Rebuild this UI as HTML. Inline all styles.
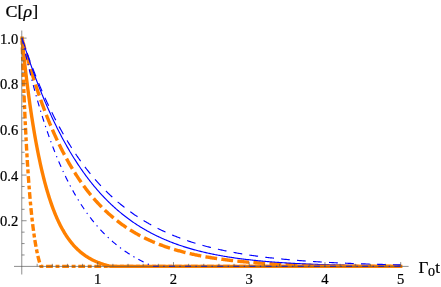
<!DOCTYPE html>
<html><head><meta charset="utf-8"><style>
html,body{margin:0;padding:0;background:#fff;}
svg{display:block;font-family:"Liberation Serif",serif;fill:#000;}
svg{will-change:transform;}
text{filter:grayscale(1);stroke:#000;stroke-width:0.22px;}
</style></head><body>
<svg width="441" height="287" viewBox="0 0 441 287">
<rect width="441" height="287" fill="#fff"/>
<path d="M22.00,38.10 L22.00,38.10 L22.00,38.12 L22.01,38.14 L22.02,38.16 L22.03,38.20 L22.04,38.25 L22.05,38.30 L22.07,38.36 L22.09,38.43 L22.11,38.50 L22.13,38.59 L22.15,38.68 L22.18,38.78 L22.21,38.89 L22.24,39.01 L22.27,39.13 L22.30,39.27 L22.34,39.41 L22.38,39.55 L22.42,39.71 L22.46,39.88 L22.51,40.05 L22.56,40.23 L22.61,40.42 L22.66,40.61 L22.71,40.82 L22.77,41.03 L22.82,41.25 L22.88,41.48 L22.95,41.71 L23.01,41.95 L23.08,42.20 L23.15,42.46 L23.22,42.73 L23.29,43.00 L23.36,43.28 L23.44,43.57 L23.52,43.86 L23.60,44.17 L23.68,44.48 L23.77,44.80 L23.86,45.12 L23.95,45.46 L24.04,45.80 L24.13,46.14 L24.23,46.50 L24.32,46.86 L24.42,47.23 L24.53,47.60 L24.63,47.99 L24.74,48.38 L24.84,48.78 L24.95,49.18 L25.07,49.59 L25.18,50.01 L25.30,50.43 L25.42,50.87 L25.54,51.31 L25.66,51.75 L25.79,52.20 L25.91,52.66 L26.04,53.13 L26.18,53.60 L26.31,54.08 L26.44,54.56 L26.58,55.05 L26.72,55.55 L26.86,56.05 L27.01,56.56 L27.15,57.08 L27.30,57.60 L27.45,58.13 L27.61,58.66 L27.76,59.20 L27.92,59.75 L28.08,60.30 L28.24,60.86 L28.40,61.42 L28.57,61.99 L28.73,62.57 L28.90,63.15 L29.07,63.74 L29.25,64.33 L29.42,64.92 L29.60,65.53 L29.78,66.13 L29.96,66.75 L30.15,67.37 L30.33,67.99 L30.52,68.62 L30.71,69.25 L30.90,69.89 L31.10,70.53 L31.29,71.18 L31.49,71.83 L31.69,72.49 L31.90,73.15 L32.10,73.82 L32.31,74.49 L32.52,75.17 L32.73,75.85 L32.94,76.53 L33.16,77.22 L33.38,77.91 L33.60,78.61 L33.82,79.31 L34.04,80.01 L34.27,80.72 L34.50,81.44 L34.73,82.15 L34.96,82.87 L35.20,83.60 L35.43,84.33 L35.67,85.06 L35.91,85.79 L36.15,86.53 L36.40,87.27 L36.65,88.02 L36.90,88.76 L37.15,89.51 L37.40,90.27 L37.66,91.03 L37.91,91.79 L38.17,92.55 L38.44,93.32 L38.70,94.08 L38.97,94.85 L39.24,95.63 L39.51,96.41 L39.78,97.18 L40.05,97.97 L40.33,98.75 L40.61,99.54 L40.89,100.32 L41.17,101.11 L41.46,101.91 L41.74,102.70 L42.03,103.50 L42.32,104.30 L42.62,105.10 L42.91,105.90 L43.21,106.70 L43.51,107.51 L43.81,108.32 L44.12,109.12 L44.42,109.93 L44.73,110.74 L45.04,111.56 L45.35,112.37 L45.67,113.19 L45.99,114.00 L46.30,114.82 L46.62,115.64 L46.95,116.46 L47.27,117.28 L47.60,118.10 L47.93,118.92 L48.26,119.74 L48.59,120.56 L48.93,121.39 L49.27,122.21 L49.61,123.04 L49.95,123.86 L50.29,124.69 L50.64,125.51 L50.99,126.34 L51.34,127.16 L51.69,127.99 L52.04,128.81 L52.40,129.64 L52.76,130.46 L53.12,131.29 L53.48,132.12 L53.85,132.94 L54.22,133.77 L54.59,134.59 L54.96,135.41 L55.33,136.24 L55.71,137.06 L56.08,137.88 L56.46,138.70 L56.84,139.52 L57.23,140.34 L57.61,141.16 L58.00,141.98 L58.39,142.80 L58.79,143.62 L59.18,144.43 L59.58,145.25 L59.98,146.06 L60.38,146.87 L60.78,147.68 L61.18,148.49 L61.59,149.30 L62.00,150.11 L62.41,150.91 L62.82,151.72 L63.24,152.52 L63.66,153.32 L64.08,154.12 L64.50,154.92 L64.92,155.71 L65.35,156.51 L65.78,157.30 L66.21,158.09 L66.64,158.88 L67.07,159.67 L67.51,160.45 L67.95,161.24 L68.39,162.02 L68.83,162.80 L69.28,163.57 L69.73,164.35 L70.17,165.12 L70.63,165.89 L71.08,166.66 L71.54,167.42 L71.99,168.19 L72.45,168.95 L72.91,169.71 L73.38,170.46 L73.84,171.22 L74.31,171.97 L74.78,172.72 L75.25,173.46 L75.73,174.21 L76.21,174.95 L76.68,175.69 L77.17,176.42 L77.65,177.16 L78.13,177.89 L78.62,178.61 L79.11,179.34 L79.60,180.06 L80.09,180.78 L80.59,181.49 L81.09,182.21 L81.59,182.92 L82.09,183.62 L82.59,184.33 L83.10,185.03 L83.61,185.73 L84.12,186.42 L84.63,187.11 L85.14,187.80 L85.66,188.49 L86.18,189.17 L86.70,189.85 L87.22,190.53 L87.75,191.20 L88.27,191.87 L88.80,192.54 L89.33,193.20 L89.87,193.86 L90.40,194.52 L90.94,195.17 L91.48,195.82 L92.02,196.47 L92.57,197.11 L93.11,197.75 L93.66,198.38 L94.21,199.02 L94.76,199.65 L95.32,200.27 L95.87,200.90 L96.43,201.51 L96.99,202.13 L97.55,202.74 L98.12,203.35 L98.69,203.96 L99.26,204.56 L99.83,205.16 L100.40,205.75 L100.98,206.34 L101.55,206.93 L102.13,207.51 L102.71,208.09 L103.30,208.67 L103.88,209.24 L104.47,209.81 L105.06,210.38 L105.65,210.94 L106.25,211.50 L106.85,212.06 L107.44,212.61 L108.04,213.16 L108.65,213.70 L109.25,214.24 L109.86,214.78 L110.47,215.31 L111.08,215.84 L111.69,216.37 L112.31,216.89 L112.93,217.41 L113.55,217.93 L114.17,218.44 L114.79,218.95 L115.42,219.45 L116.04,219.96 L116.67,220.45 L117.31,220.95 L117.94,221.44 L118.58,221.93 L119.22,222.41 L119.86,222.89 L120.50,223.36 L121.14,223.84 L121.79,224.31 L122.44,224.77 L123.09,225.23 L123.75,225.69 L124.40,226.15 L125.06,226.60 L125.72,227.05 L126.38,227.49 L127.04,227.93 L127.71,228.37 L128.38,228.80 L129.05,229.23 L129.72,229.66 L130.39,230.08 L131.07,230.50 L131.75,230.92 L132.43,231.33 L133.11,231.74 L133.80,232.15 L134.48,232.55 L135.17,232.95 L135.86,233.35 L136.56,233.74 L137.25,234.13 L137.95,234.51 L138.65,234.90 L139.35,235.28 L140.05,235.65 L140.76,236.02 L141.47,236.39 L142.18,236.76 L142.89,237.12 L143.60,237.48 L144.32,237.84 L145.04,238.19 L145.76,238.54 L146.48,238.89 L147.21,239.23 L147.93,239.57 L148.66,239.91 L149.39,240.24 L150.13,240.57 L150.86,240.90 L151.60,241.22 L152.34,241.55 L153.08,241.86 L153.83,242.18 L154.57,242.49 L155.32,242.80 L156.07,243.11 L156.82,243.41 L157.58,243.71 L158.33,244.01 L159.09,244.30 L159.85,244.59 L160.61,244.88 L161.38,245.17 L162.15,245.45 L162.91,245.73 L163.69,246.01 L164.46,246.28 L165.23,246.56 L166.01,246.82 L166.79,247.09 L167.57,247.35 L168.36,247.61 L169.14,247.87 L169.93,248.13 L170.72,248.38 L171.51,248.63 L172.31,248.88 L173.10,249.12 L173.90,249.36 L174.70,249.60 L175.50,249.84 L176.31,250.07 L177.12,250.31 L177.92,250.53 L178.74,250.76 L179.55,250.98 L180.36,251.21 L181.18,251.43 L182.00,251.64 L182.82,251.86 L183.65,252.07 L184.47,252.28 L185.30,252.49 L186.13,252.69 L186.96,252.89 L187.80,253.09 L188.63,253.29 L189.47,253.49 L190.31,253.68 L191.15,253.87 L192.00,254.06 L192.85,254.25 L193.69,254.43 L194.55,254.62 L195.40,254.80 L196.25,254.97 L197.11,255.15 L197.97,255.32 L198.83,255.50 L199.70,255.67 L200.56,255.83 L201.43,256.00 L202.30,256.16 L203.17,256.33 L204.05,256.49 L204.92,256.64 L205.80,256.80 L206.68,256.95 L207.56,257.11 L208.45,257.26 L209.33,257.40 L210.22,257.55 L211.11,257.70 L212.01,257.84 L212.90,257.98 L213.80,258.12 L214.70,258.26 L215.60,258.39 L216.50,258.53 L217.41,258.66 L218.32,258.79 L219.23,258.92 L220.14,259.05 L221.05,259.17 L221.97,259.30 L222.89,259.42 L223.81,259.54 L224.73,259.66 L225.66,259.78 L226.58,259.89 L227.51,260.01 L228.44,260.12 L229.38,260.23 L230.31,260.34 L231.25,260.45 L232.19,260.56 L233.13,260.66 L234.07,260.77 L235.02,260.87 L235.97,260.97 L236.92,261.07 L237.87,261.17 L238.82,261.27 L239.78,261.37 L240.74,261.46 L241.70,261.55 L242.66,261.65 L243.62,261.74 L244.59,261.83 L245.56,261.92 L246.53,262.00 L247.50,262.09 L248.48,262.17 L249.46,262.26 L250.44,262.34 L251.42,262.42 L252.40,262.50 L253.39,262.58 L254.37,262.66 L255.36,262.73 L256.36,262.81 L257.35,262.88 L258.35,262.96 L259.34,263.03 L260.35,263.10 L261.35,263.17 L262.35,263.24 L263.36,263.31 L264.37,263.38 L265.38,263.44 L266.39,263.51 L267.41,263.57 L268.42,263.63 L269.44,263.70 L270.47,263.76 L271.49,263.82 L272.51,263.88 L273.54,263.94 L274.57,263.99 L275.60,264.05 L276.64,264.11 L277.67,264.16 L278.71,264.22 L279.75,264.27 L280.80,264.32 L281.84,264.38 L282.89,264.43 L283.94,264.48 L284.99,264.53 L286.04,264.58 L287.09,264.62 L288.15,264.67 L289.21,264.72 L290.27,264.76 L291.34,264.81 L292.40,264.85 L293.47,264.90 L294.54,264.94 L295.61,264.98 L296.68,265.02 L297.76,265.06 L298.84,265.10 L299.92,265.14 L301.00,265.18 L302.09,265.22 L303.17,265.26 L304.26,265.30 L305.35,265.33 L306.45,265.37 L307.54,265.40 L308.64,265.44 L309.74,265.47 L310.84,265.51 L311.94,265.54 L313.05,265.57 L314.16,265.60 L315.27,265.64 L316.38,265.67 L317.49,265.70 L318.61,265.73 L319.73,265.76 L320.85,265.79 L321.97,265.81 L323.09,265.84 L324.22,265.87 L325.35,265.90 L326.48,265.92 L327.61,265.95 L328.75,265.98 L329.88,266.00 L331.02,266.03 L332.16,266.05 L333.31,266.07 L334.45,266.10 L335.60,266.12 L336.75,266.14 L337.90,266.17 L339.06,266.19 L340.21,266.21 L341.37,266.23 L342.53,266.25 L343.69,266.27 L344.86,266.29 L346.03,266.31 L347.19,266.33 L348.36,266.35 L349.54,266.37 L350.71,266.39 L351.89,266.40 L353.07,266.40 L354.25,266.40 L355.43,266.40 L356.62,266.40 L357.81,266.40 L359.00,266.40 L360.19,266.40 L361.38,266.40 L362.58,266.40 L363.78,266.40 L364.98,266.40 L366.18,266.40 L367.38,266.40 L368.59,266.40 L369.80,266.40 L371.01,266.40 L372.22,266.40 L373.44,266.40 L374.65,266.40 L375.87,266.40 L377.10,266.40 L378.32,266.40 L379.54,266.40 L380.77,266.40 L382.00,266.40 L383.23,266.40 L384.47,266.40 L385.70,266.40 L386.94,266.40 L388.18,266.40 L389.42,266.40 L390.67,266.40 L391.92,266.40 L393.16,266.40 L394.41,266.40 L395.67,266.40 L396.92,266.40 L398.18,266.40 L399.44,266.40 L400.70,266.40" fill="none" stroke="#ff8000" stroke-width="3.4" stroke-dasharray="11.8,4.3"/>
<path d="M22.00,38.10 L22.00,38.10 L22.00,38.11 L22.01,38.13 L22.02,38.15 L22.03,38.18 L22.04,38.22 L22.05,38.26 L22.07,38.32 L22.09,38.37 L22.11,38.44 L22.13,38.51 L22.15,38.58 L22.18,38.67 L22.21,38.76 L22.24,38.86 L22.27,38.96 L22.30,39.07 L22.34,39.19 L22.38,39.31 L22.42,39.44 L22.46,39.58 L22.51,39.72 L22.56,39.87 L22.61,40.03 L22.66,40.19 L22.71,40.36 L22.77,40.54 L22.82,40.72 L22.88,40.91 L22.95,41.11 L23.01,41.31 L23.08,41.52 L23.15,41.73 L23.22,41.95 L23.29,42.18 L23.36,42.42 L23.44,42.66 L23.52,42.91 L23.60,43.16 L23.68,43.42 L23.77,43.69 L23.86,43.96 L23.95,44.24 L24.04,44.52 L24.13,44.81 L24.23,45.11 L24.32,45.41 L24.42,45.72 L24.53,46.04 L24.63,46.36 L24.74,46.69 L24.84,47.02 L24.95,47.36 L25.07,47.71 L25.18,48.06 L25.30,48.42 L25.42,48.78 L25.54,49.15 L25.66,49.53 L25.79,49.91 L25.91,50.29 L26.04,50.69 L26.18,51.08 L26.31,51.49 L26.44,51.90 L26.58,52.31 L26.72,52.73 L26.86,53.16 L27.01,53.59 L27.15,54.03 L27.30,54.47 L27.45,54.92 L27.61,55.37 L27.76,55.83 L27.92,56.30 L28.08,56.77 L28.24,57.24 L28.40,57.72 L28.57,58.20 L28.73,58.69 L28.90,59.19 L29.07,59.69 L29.25,60.19 L29.42,60.70 L29.60,61.22 L29.78,61.74 L29.96,62.26 L30.15,62.79 L30.33,63.33 L30.52,63.87 L30.71,64.41 L30.90,64.96 L31.10,65.51 L31.29,66.07 L31.49,66.63 L31.69,67.20 L31.90,67.77 L32.10,68.34 L32.31,68.92 L32.52,69.51 L32.73,70.09 L32.94,70.69 L33.16,71.28 L33.38,71.88 L33.60,72.49 L33.82,73.10 L34.04,73.71 L34.27,74.32 L34.50,74.94 L34.73,75.57 L34.96,76.20 L35.20,76.83 L35.43,77.46 L35.67,78.10 L35.91,78.74 L36.15,79.39 L36.40,80.04 L36.65,80.69 L36.90,81.35 L37.15,82.01 L37.40,82.67 L37.66,83.34 L37.91,84.01 L38.17,84.68 L38.44,85.36 L38.70,86.03 L38.97,86.72 L39.24,87.40 L39.51,88.09 L39.78,88.78 L40.05,89.47 L40.33,90.17 L40.61,90.87 L40.89,91.57 L41.17,92.27 L41.46,92.98 L41.74,93.69 L42.03,94.40 L42.32,95.11 L42.62,95.83 L42.91,96.55 L43.21,97.27 L43.51,97.99 L43.81,98.72 L44.12,99.45 L44.42,100.18 L44.73,100.91 L45.04,101.64 L45.35,102.38 L45.67,103.11 L45.99,103.85 L46.30,104.59 L46.62,105.34 L46.95,106.08 L47.27,106.83 L47.60,107.57 L47.93,108.32 L48.26,109.07 L48.59,109.82 L48.93,110.58 L49.27,111.33 L49.61,112.09 L49.95,112.84 L50.29,113.60 L50.64,114.36 L50.99,115.12 L51.34,115.88 L51.69,116.65 L52.04,117.41 L52.40,118.17 L52.76,118.94 L53.12,119.70 L53.48,120.47 L53.85,121.24 L54.22,122.00 L54.59,122.77 L54.96,123.54 L55.33,124.31 L55.71,125.08 L56.08,125.85 L56.46,126.62 L56.84,127.39 L57.23,128.16 L57.61,128.93 L58.00,129.70 L58.39,130.48 L58.79,131.25 L59.18,132.02 L59.58,132.79 L59.98,133.56 L60.38,134.33 L60.78,135.10 L61.18,135.87 L61.59,136.65 L62.00,137.42 L62.41,138.19 L62.82,138.96 L63.24,139.72 L63.66,140.49 L64.08,141.26 L64.50,142.03 L64.92,142.80 L65.35,143.56 L65.78,144.33 L66.21,145.09 L66.64,145.86 L67.07,146.62 L67.51,147.38 L67.95,148.14 L68.39,148.90 L68.83,149.66 L69.28,150.42 L69.73,151.18 L70.17,151.94 L70.63,152.69 L71.08,153.45 L71.54,154.20 L71.99,154.95 L72.45,155.70 L72.91,156.45 L73.38,157.20 L73.84,157.94 L74.31,158.69 L74.78,159.43 L75.25,160.17 L75.73,160.91 L76.21,161.65 L76.68,162.39 L77.17,163.13 L77.65,163.86 L78.13,164.59 L78.62,165.32 L79.11,166.05 L79.60,166.78 L80.09,167.50 L80.59,168.22 L81.09,168.95 L81.59,169.66 L82.09,170.38 L82.59,171.10 L83.10,171.81 L83.61,172.52 L84.12,173.23 L84.63,173.94 L85.14,174.64 L85.66,175.34 L86.18,176.04 L86.70,176.74 L87.22,177.44 L87.75,178.13 L88.27,178.82 L88.80,179.51 L89.33,180.20 L89.87,180.88 L90.40,181.56 L90.94,182.24 L91.48,182.92 L92.02,183.59 L92.57,184.27 L93.11,184.93 L93.66,185.60 L94.21,186.27 L94.76,186.93 L95.32,187.59 L95.87,188.24 L96.43,188.89 L96.99,189.55 L97.55,190.19 L98.12,190.84 L98.69,191.48 L99.26,192.12 L99.83,192.76 L100.40,193.39 L100.98,194.02 L101.55,194.65 L102.13,195.28 L102.71,195.90 L103.30,196.52 L103.88,197.14 L104.47,197.75 L105.06,198.36 L105.65,198.97 L106.25,199.57 L106.85,200.18 L107.44,200.78 L108.04,201.37 L108.65,201.97 L109.25,202.56 L109.86,203.14 L110.47,203.73 L111.08,204.31 L111.69,204.88 L112.31,205.46 L112.93,206.03 L113.55,206.60 L114.17,207.16 L114.79,207.73 L115.42,208.29 L116.04,208.84 L116.67,209.39 L117.31,209.94 L117.94,210.49 L118.58,211.03 L119.22,211.57 L119.86,212.11 L120.50,212.64 L121.14,213.17 L121.79,213.70 L122.44,214.22 L123.09,214.74 L123.75,215.26 L124.40,215.78 L125.06,216.29 L125.72,216.79 L126.38,217.30 L127.04,217.80 L127.71,218.30 L128.38,218.79 L129.05,219.28 L129.72,219.77 L130.39,220.26 L131.07,220.74 L131.75,221.22 L132.43,221.69 L133.11,222.16 L133.80,222.63 L134.48,223.10 L135.17,223.56 L135.86,224.02 L136.56,224.47 L137.25,224.93 L137.95,225.38 L138.65,225.82 L139.35,226.26 L140.05,226.70 L140.76,227.14 L141.47,227.57 L142.18,228.00 L142.89,228.43 L143.60,228.85 L144.32,229.27 L145.04,229.69 L145.76,230.10 L146.48,230.51 L147.21,230.92 L147.93,231.32 L148.66,231.72 L149.39,232.12 L150.13,232.51 L150.86,232.90 L151.60,233.29 L152.34,233.68 L153.08,234.06 L153.83,234.44 L154.57,234.81 L155.32,235.19 L156.07,235.55 L156.82,235.92 L157.58,236.28 L158.33,236.64 L159.09,237.00 L159.85,237.35 L160.61,237.70 L161.38,238.05 L162.15,238.40 L162.91,238.74 L163.69,239.08 L164.46,239.41 L165.23,239.74 L166.01,240.07 L166.79,240.40 L167.57,240.72 L168.36,241.04 L169.14,241.36 L169.93,241.68 L170.72,241.99 L171.51,242.30 L172.31,242.60 L173.10,242.91 L173.90,243.21 L174.70,243.50 L175.50,243.80 L176.31,244.09 L177.12,244.38 L177.92,244.66 L178.74,244.95 L179.55,245.23 L180.36,245.51 L181.18,245.78 L182.00,246.05 L182.82,246.32 L183.65,246.59 L184.47,246.85 L185.30,247.12 L186.13,247.37 L186.96,247.63 L187.80,247.88 L188.63,248.13 L189.47,248.38 L190.31,248.63 L191.15,248.87 L192.00,249.11 L192.85,249.35 L193.69,249.59 L194.55,249.82 L195.40,250.05 L196.25,250.28 L197.11,250.50 L197.97,250.73 L198.83,250.95 L199.70,251.16 L200.56,251.38 L201.43,251.59 L202.30,251.81 L203.17,252.01 L204.05,252.22 L204.92,252.42 L205.80,252.63 L206.68,252.83 L207.56,253.02 L208.45,253.22 L209.33,253.41 L210.22,253.60 L211.11,253.79 L212.01,253.97 L212.90,254.16 L213.80,254.34 L214.70,254.52 L215.60,254.70 L216.50,254.87 L217.41,255.05 L218.32,255.22 L219.23,255.39 L220.14,255.55 L221.05,255.72 L221.97,255.88 L222.89,256.04 L223.81,256.20 L224.73,256.36 L225.66,256.51 L226.58,256.67 L227.51,256.82 L228.44,256.97 L229.38,257.11 L230.31,257.26 L231.25,257.40 L232.19,257.55 L233.13,257.69 L234.07,257.82 L235.02,257.96 L235.97,258.09 L236.92,258.23 L237.87,258.36 L238.82,258.49 L239.78,258.62 L240.74,258.74 L241.70,258.87 L242.66,258.99 L243.62,259.11 L244.59,259.23 L245.56,259.35 L246.53,259.46 L247.50,259.58 L248.48,259.69 L249.46,259.80 L250.44,259.91 L251.42,260.02 L252.40,260.13 L253.39,260.23 L254.37,260.34 L255.36,260.44 L256.36,260.54 L257.35,260.64 L258.35,260.74 L259.34,260.84 L260.35,260.93 L261.35,261.03 L262.35,261.12 L263.36,261.21 L264.37,261.30 L265.38,261.39 L266.39,261.48 L267.41,261.56 L268.42,261.65 L269.44,261.73 L270.47,261.81 L271.49,261.90 L272.51,261.98 L273.54,262.05 L274.57,262.13 L275.60,262.21 L276.64,262.28 L277.67,262.36 L278.71,262.43 L279.75,262.50 L280.80,262.57 L281.84,262.64 L282.89,262.71 L283.94,262.78 L284.99,262.85 L286.04,262.91 L287.09,262.98 L288.15,263.04 L289.21,263.10 L290.27,263.16 L291.34,263.22 L292.40,263.28 L293.47,263.34 L294.54,263.40 L295.61,263.46 L296.68,263.51 L297.76,263.57 L298.84,263.62 L299.92,263.67 L301.00,263.73 L302.09,263.78 L303.17,263.83 L304.26,263.88 L305.35,263.93 L306.45,263.98 L307.54,264.02 L308.64,264.07 L309.74,264.11 L310.84,264.16 L311.94,264.20 L313.05,264.25 L314.16,264.29 L315.27,264.33 L316.38,264.37 L317.49,264.41 L318.61,264.45 L319.73,264.49 L320.85,264.53 L321.97,264.57 L323.09,264.61 L324.22,264.64 L325.35,264.68 L326.48,264.71 L327.61,264.75 L328.75,264.78 L329.88,264.81 L331.02,264.85 L332.16,264.88 L333.31,264.91 L334.45,264.94 L335.60,264.97 L336.75,265.00 L337.90,265.03 L339.06,265.06 L340.21,265.09 L341.37,265.12 L342.53,265.14 L343.69,265.17 L344.86,265.20 L346.03,265.22 L347.19,265.25 L348.36,265.27 L349.54,265.30 L350.71,265.32 L351.89,265.34 L353.07,265.37 L354.25,265.39 L355.43,265.41 L356.62,265.43 L357.81,265.45 L359.00,265.47 L360.19,265.50 L361.38,265.52 L362.58,265.53 L363.78,265.55 L364.98,265.57 L366.18,265.59 L367.38,265.61 L368.59,265.63 L369.80,265.64 L371.01,265.66 L372.22,265.68 L373.44,265.69 L374.65,265.71 L375.87,265.73 L377.10,265.74 L378.32,265.76 L379.54,265.77 L380.77,265.79 L382.00,265.80 L383.23,265.81 L384.47,265.83 L385.70,265.84 L386.94,265.85 L388.18,265.87 L389.42,265.88 L390.67,265.89 L391.92,265.90 L393.16,265.92 L394.41,265.93 L395.67,265.94 L396.92,265.95 L398.18,265.96 L399.44,265.97 L400.70,265.98" fill="none" stroke="#0000ff" stroke-width="1.15"/>
<path d="M22.00,38.10 L22.00,38.11 L22.00,38.14 L22.01,38.19 L22.02,38.27 L22.03,38.36 L22.04,38.47 L22.05,38.61 L22.07,38.76 L22.09,38.94 L22.11,39.13 L22.13,39.35 L22.15,39.59 L22.18,39.84 L22.21,40.12 L22.24,40.42 L22.27,40.73 L22.30,41.07 L22.34,41.43 L22.38,41.81 L22.42,42.20 L22.46,42.62 L22.51,43.05 L22.56,43.51 L22.61,43.98 L22.66,44.48 L22.71,44.99 L22.77,45.52 L22.82,46.07 L22.88,46.64 L22.95,47.23 L23.01,47.83 L23.08,48.46 L23.15,49.10 L23.22,49.76 L23.29,50.44 L23.36,51.13 L23.44,51.84 L23.52,52.57 L23.60,53.32 L23.68,54.08 L23.77,54.86 L23.86,55.66 L23.95,56.47 L24.04,57.30 L24.13,58.14 L24.23,59.00 L24.32,59.87 L24.42,60.76 L24.53,61.67 L24.63,62.59 L24.74,63.52 L24.84,64.47 L24.95,65.43 L25.07,66.41 L25.18,67.39 L25.30,68.40 L25.42,69.41 L25.54,70.44 L25.66,71.48 L25.79,72.53 L25.91,73.60 L26.04,74.67 L26.18,75.76 L26.31,76.86 L26.44,77.97 L26.58,79.09 L26.72,80.22 L26.86,81.37 L27.01,82.52 L27.15,83.68 L27.30,84.85 L27.45,86.03 L27.61,87.22 L27.76,88.42 L27.92,89.62 L28.08,90.84 L28.24,92.06 L28.40,93.29 L28.57,94.53 L28.73,95.77 L28.90,97.02 L29.07,98.28 L29.25,99.54 L29.42,100.81 L29.60,102.08 L29.78,103.37 L29.96,104.65 L30.15,105.94 L30.33,107.24 L30.52,108.54 L30.71,109.84 L30.90,111.15 L31.10,112.46 L31.29,113.77 L31.49,115.09 L31.69,116.41 L31.90,117.73 L32.10,119.06 L32.31,120.38 L32.52,121.71 L32.73,123.04 L32.94,124.37 L33.16,125.71 L33.38,127.04 L33.60,128.37 L33.82,129.71 L34.04,131.04 L34.27,132.38 L34.50,133.71 L34.73,135.04 L34.96,136.38 L35.20,137.71 L35.43,139.04 L35.67,140.37 L35.91,141.69 L36.15,143.02 L36.40,144.34 L36.65,145.66 L36.90,146.98 L37.15,148.29 L37.40,149.60 L37.66,150.91 L37.91,152.22 L38.17,153.52 L38.44,154.82 L38.70,156.11 L38.97,157.40 L39.24,158.69 L39.51,159.97 L39.78,161.24 L40.05,162.51 L40.33,163.78 L40.61,165.04 L40.89,166.30 L41.17,167.55 L41.46,168.79 L41.74,170.03 L42.03,171.26 L42.32,172.49 L42.62,173.71 L42.91,174.93 L43.21,176.13 L43.51,177.33 L43.81,178.53 L44.12,179.72 L44.42,180.90 L44.73,182.07 L45.04,183.24 L45.35,184.39 L45.67,185.54 L45.99,186.69 L46.30,187.82 L46.62,188.95 L46.95,190.07 L47.27,191.18 L47.60,192.29 L47.93,193.38 L48.26,194.47 L48.59,195.55 L48.93,196.62 L49.27,197.69 L49.61,198.74 L49.95,199.78 L50.29,200.82 L50.64,201.85 L50.99,202.87 L51.34,203.88 L51.69,204.88 L52.04,205.88 L52.40,206.86 L52.76,207.83 L53.12,208.80 L53.48,209.76 L53.85,210.71 L54.22,211.64 L54.59,212.57 L54.96,213.50 L55.33,214.41 L55.71,215.31 L56.08,216.20 L56.46,217.09 L56.84,217.96 L57.23,218.83 L57.61,219.68 L58.00,220.53 L58.39,221.37 L58.79,222.20 L59.18,223.01 L59.58,223.82 L59.98,224.63 L60.38,225.42 L60.78,226.20 L61.18,226.97 L61.59,227.74 L62.00,228.49 L62.41,229.24 L62.82,229.98 L63.24,230.70 L63.66,231.42 L64.08,232.13 L64.50,232.83 L64.92,233.52 L65.35,234.21 L65.78,234.88 L66.21,235.55 L66.64,236.20 L67.07,236.85 L67.51,237.49 L67.95,238.12 L68.39,238.74 L68.83,239.36 L69.28,239.96 L69.73,240.56 L70.17,241.15 L70.63,241.73 L71.08,242.30 L71.54,242.86 L71.99,243.42 L72.45,243.96 L72.91,244.50 L73.38,245.03 L73.84,245.56 L74.31,246.07 L74.78,246.58 L75.25,247.08 L75.73,247.57 L76.21,248.06 L76.68,248.53 L77.17,249.00 L77.65,249.46 L78.13,249.92 L78.62,250.37 L79.11,250.81 L79.60,251.24 L80.09,251.67 L80.59,252.09 L81.09,252.50 L81.59,252.90 L82.09,253.30 L82.59,253.69 L83.10,254.08 L83.61,254.46 L84.12,254.83 L84.63,255.20 L85.14,255.56 L85.66,255.91 L86.18,256.26 L86.70,256.60 L87.22,256.93 L87.75,257.26 L88.27,257.58 L88.80,257.90 L89.33,258.21 L89.87,258.52 L90.40,258.82 L90.94,259.11 L91.48,259.40 L92.02,259.68 L92.57,259.96 L93.11,260.24 L93.66,260.50 L94.21,260.77 L94.76,261.02 L95.32,261.28 L95.87,261.52 L96.43,261.77 L96.99,262.01 L97.55,262.24 L98.12,262.47 L98.69,262.69 L99.26,262.91 L99.83,263.13 L100.40,263.34 L100.98,263.55 L101.55,263.75 L102.13,263.95 L102.71,264.14 L103.30,264.33 L103.88,264.52 L104.47,264.70 L105.06,264.88 L105.65,265.06 L106.25,265.23 L106.85,265.39 L107.44,265.56 L108.04,265.72 L108.65,265.88 L109.25,266.03 L109.86,266.18 L110.47,266.33 L111.08,266.40 L111.69,266.40 L112.31,266.40 L112.93,266.40 L113.55,266.40 L114.17,266.40 L114.79,266.40 L115.42,266.40 L116.04,266.40 L116.67,266.40 L117.31,266.40 L117.94,266.40 L118.58,266.40 L119.22,266.40 L119.86,266.40 L120.50,266.40 L121.14,266.40 L121.79,266.40 L122.44,266.40 L123.09,266.40 L123.75,266.40 L124.40,266.40 L125.06,266.40 L125.72,266.40 L126.38,266.40 L127.04,266.40 L127.71,266.40 L128.38,266.40 L129.05,266.40 L129.72,266.40 L130.39,266.40 L131.07,266.40 L131.75,266.40 L132.43,266.40 L133.11,266.40 L133.80,266.40 L134.48,266.40 L135.17,266.40 L135.86,266.40 L136.56,266.40 L137.25,266.40 L137.95,266.40 L138.65,266.40 L139.35,266.40 L140.05,266.40 L140.76,266.40 L141.47,266.40 L142.18,266.40 L142.89,266.40 L143.60,266.40 L144.32,266.40 L145.04,266.40 L145.76,266.40 L146.48,266.40 L147.21,266.40 L147.93,266.40 L148.66,266.40 L149.39,266.40 L150.13,266.40 L150.86,266.40 L151.60,266.40 L152.34,266.40 L153.08,266.40 L153.83,266.40 L154.57,266.40 L155.32,266.40 L156.07,266.40 L156.82,266.40 L157.58,266.40 L158.33,266.40 L159.09,266.40 L159.85,266.40 L160.61,266.40 L161.38,266.40 L162.15,266.40 L162.91,266.40 L163.69,266.40 L164.46,266.40 L165.23,266.40 L166.01,266.40 L166.79,266.40 L167.57,266.40 L168.36,266.40 L169.14,266.40 L169.93,266.40 L170.72,266.40 L171.51,266.40 L172.31,266.40 L173.10,266.40 L173.90,266.40 L174.70,266.40 L175.50,266.40 L176.31,266.40 L177.12,266.40 L177.92,266.40 L178.74,266.40 L179.55,266.40 L180.36,266.40 L181.18,266.40 L182.00,266.40 L182.82,266.40 L183.65,266.40 L184.47,266.40 L185.30,266.40 L186.13,266.40 L186.96,266.40 L187.80,266.40 L188.63,266.40 L189.47,266.40 L190.31,266.40 L191.15,266.40 L192.00,266.40 L192.85,266.40 L193.69,266.40 L194.55,266.40 L195.40,266.40 L196.25,266.40 L197.11,266.40 L197.97,266.40 L198.83,266.40 L199.70,266.40 L200.56,266.40 L201.43,266.40 L202.30,266.40 L203.17,266.40 L204.05,266.40 L204.92,266.40 L205.80,266.40 L206.68,266.40 L207.56,266.40 L208.45,266.40 L209.33,266.40 L210.22,266.40 L211.11,266.40 L212.01,266.40 L212.90,266.40 L213.80,266.40 L214.70,266.40 L215.60,266.40 L216.50,266.40 L217.41,266.40 L218.32,266.40 L219.23,266.40 L220.14,266.40 L221.05,266.40 L221.97,266.40 L222.89,266.40 L223.81,266.40 L224.73,266.40 L225.66,266.40 L226.58,266.40 L227.51,266.40 L228.44,266.40 L229.38,266.40 L230.31,266.40 L231.25,266.40 L232.19,266.40 L233.13,266.40 L234.07,266.40 L235.02,266.40 L235.97,266.40 L236.92,266.40 L237.87,266.40 L238.82,266.40 L239.78,266.40 L240.74,266.40 L241.70,266.40 L242.66,266.40 L243.62,266.40 L244.59,266.40 L245.56,266.40 L246.53,266.40 L247.50,266.40 L248.48,266.40 L249.46,266.40 L250.44,266.40 L251.42,266.40 L252.40,266.40 L253.39,266.40 L254.37,266.40 L255.36,266.40 L256.36,266.40 L257.35,266.40 L258.35,266.40 L259.34,266.40 L260.35,266.40 L261.35,266.40 L262.35,266.40 L263.36,266.40 L264.37,266.40 L265.38,266.40 L266.39,266.40 L267.41,266.40 L268.42,266.40 L269.44,266.40 L270.47,266.40 L271.49,266.40 L272.51,266.40 L273.54,266.40 L274.57,266.40 L275.60,266.40 L276.64,266.40 L277.67,266.40 L278.71,266.40 L279.75,266.40 L280.80,266.40 L281.84,266.40 L282.89,266.40 L283.94,266.40 L284.99,266.40 L286.04,266.40 L287.09,266.40 L288.15,266.40 L289.21,266.40 L290.27,266.40 L291.34,266.40 L292.40,266.40 L293.47,266.40 L294.54,266.40 L295.61,266.40 L296.68,266.40 L297.76,266.40 L298.84,266.40 L299.92,266.40 L301.00,266.40 L302.09,266.40 L303.17,266.40 L304.26,266.40 L305.35,266.40 L306.45,266.40 L307.54,266.40 L308.64,266.40 L309.74,266.40 L310.84,266.40 L311.94,266.40 L313.05,266.40 L314.16,266.40 L315.27,266.40 L316.38,266.40 L317.49,266.40 L318.61,266.40 L319.73,266.40 L320.85,266.40 L321.97,266.40 L323.09,266.40 L324.22,266.40 L325.35,266.40 L326.48,266.40 L327.61,266.40 L328.75,266.40 L329.88,266.40 L331.02,266.40 L332.16,266.40 L333.31,266.40 L334.45,266.40 L335.60,266.40 L336.75,266.40 L337.90,266.40 L339.06,266.40 L340.21,266.40 L341.37,266.40 L342.53,266.40 L343.69,266.40 L344.86,266.40 L346.03,266.40 L347.19,266.40 L348.36,266.40 L349.54,266.40 L350.71,266.40 L351.89,266.40 L353.07,266.40 L354.25,266.40 L355.43,266.40 L356.62,266.40 L357.81,266.40 L359.00,266.40 L360.19,266.40 L361.38,266.40 L362.58,266.40 L363.78,266.40 L364.98,266.40 L366.18,266.40 L367.38,266.40 L368.59,266.40 L369.80,266.40 L371.01,266.40 L372.22,266.40 L373.44,266.40 L374.65,266.40 L375.87,266.40 L377.10,266.40 L378.32,266.40 L379.54,266.40 L380.77,266.40 L382.00,266.40 L383.23,266.40 L384.47,266.40 L385.70,266.40 L386.94,266.40 L388.18,266.40 L389.42,266.40 L390.67,266.40 L391.92,266.40 L393.16,266.40 L394.41,266.40 L395.67,266.40 L396.92,266.40 L398.18,266.40 L399.44,266.40 L400.70,266.40" fill="none" stroke="#ff8000" stroke-width="3.4" stroke-linecap="square"/>
<path d="M22.00,38.10 L22.00,38.13 L22.00,38.23 L22.01,38.40 L22.02,38.63 L22.03,38.93 L22.04,39.30 L22.05,39.73 L22.07,40.22 L22.09,40.78 L22.11,41.41 L22.13,42.09 L22.15,42.85 L22.18,43.66 L22.21,44.54 L22.24,45.48 L22.27,46.48 L22.30,47.54 L22.34,48.65 L22.38,49.83 L22.42,51.07 L22.46,52.36 L22.51,53.70 L22.56,55.10 L22.61,56.56 L22.66,58.06 L22.71,59.62 L22.77,61.23 L22.82,62.89 L22.88,64.59 L22.95,66.34 L23.01,68.14 L23.08,69.97 L23.15,71.86 L23.22,73.78 L23.29,75.74 L23.36,77.74 L23.44,79.78 L23.52,81.85 L23.60,83.96 L23.68,86.10 L23.77,88.27 L23.86,90.47 L23.95,92.70 L24.04,94.95 L24.13,97.24 L24.23,99.54 L24.32,101.87 L24.42,104.21 L24.53,106.58 L24.63,108.96 L24.74,111.37 L24.84,113.78 L24.95,116.21 L25.07,118.65 L25.18,121.10 L25.30,123.56 L25.42,126.03 L25.54,128.50 L25.66,130.98 L25.79,133.46 L25.91,135.95 L26.04,138.43 L26.18,140.92 L26.31,143.40 L26.44,145.88 L26.58,148.35 L26.72,150.82 L26.86,153.29 L27.01,155.74 L27.15,158.19 L27.30,160.62 L27.45,163.05 L27.61,165.46 L27.76,167.86 L27.92,170.24 L28.08,172.61 L28.24,174.96 L28.40,177.30 L28.57,179.61 L28.73,181.91 L28.90,184.19 L29.07,186.45 L29.25,188.68 L29.42,190.90 L29.60,193.09 L29.78,195.26 L29.96,197.40 L30.15,199.53 L30.33,201.62 L30.52,203.69 L30.71,205.74 L30.90,207.75 L31.10,209.74 L31.29,211.71 L31.49,213.64 L31.69,215.55 L31.90,217.43 L32.10,219.28 L32.31,221.10 L32.52,222.90 L32.73,224.66 L32.94,226.40 L33.16,228.10 L33.38,229.78 L33.60,231.42 L33.82,233.04 L34.04,234.63 L34.27,236.19 L34.50,237.71 L34.73,239.21 L34.96,240.68 L35.20,242.12 L35.43,243.53 L35.67,244.91 L35.91,246.26 L36.15,247.58 L36.40,248.88 L36.65,250.14 L36.90,251.38 L37.15,252.59 L37.40,253.77 L37.66,254.92 L37.91,256.05 L38.17,257.14 L38.44,258.22 L38.70,259.26 L38.97,260.28 L39.24,261.27 L39.51,262.24 L39.78,263.19 L40.05,264.10 L40.33,265.00 L40.61,265.87 L40.89,266.40 L41.17,266.40 L41.46,266.40 L41.74,266.40 L42.03,266.40 L42.32,266.40 L42.62,266.40 L42.91,266.40 L43.21,266.40 L43.51,266.40 L43.81,266.40 L44.12,266.40 L44.42,266.40 L44.73,266.40 L45.04,266.40 L45.35,266.40 L45.67,266.40 L45.99,266.40 L46.30,266.40 L46.62,266.40 L46.95,266.40 L47.27,266.40 L47.60,266.40 L47.93,266.40 L48.26,266.40 L48.59,266.40 L48.93,266.40 L49.27,266.40 L49.61,266.40 L49.95,266.40 L50.29,266.40 L50.64,266.40 L50.99,266.40 L51.34,266.40 L51.69,266.40 L52.04,266.40 L52.40,266.40 L52.76,266.40 L53.12,266.40 L53.48,266.40 L53.85,266.40 L54.22,266.40 L54.59,266.40 L54.96,266.40 L55.33,266.40 L55.71,266.40 L56.08,266.40 L56.46,266.40 L56.84,266.40 L57.23,266.40 L57.61,266.40 L58.00,266.40 L58.39,266.40 L58.79,266.40 L59.18,266.40 L59.58,266.40 L59.98,266.40 L60.38,266.40 L60.78,266.40 L61.18,266.40 L61.59,266.40 L62.00,266.40 L62.41,266.40 L62.82,266.40 L63.24,266.40 L63.66,266.40 L64.08,266.40 L64.50,266.40 L64.92,266.40 L65.35,266.40 L65.78,266.40 L66.21,266.40 L66.64,266.40 L67.07,266.40 L67.51,266.40 L67.95,266.40 L68.39,266.40 L68.83,266.40 L69.28,266.40 L69.73,266.40 L70.17,266.40 L70.63,266.40 L71.08,266.40 L71.54,266.40 L71.99,266.40 L72.45,266.40 L72.91,266.40 L73.38,266.40 L73.84,266.40 L74.31,266.40 L74.78,266.40 L75.25,266.40 L75.73,266.40 L76.21,266.40 L76.68,266.40 L77.17,266.40 L77.65,266.40 L78.13,266.40 L78.62,266.40 L79.11,266.40 L79.60,266.40 L80.09,266.40 L80.59,266.40 L81.09,266.40 L81.59,266.40 L82.09,266.40 L82.59,266.40 L83.10,266.40 L83.61,266.40 L84.12,266.40 L84.63,266.40 L85.14,266.40 L85.66,266.40 L86.18,266.40 L86.70,266.40 L87.22,266.40 L87.75,266.40 L88.27,266.40 L88.80,266.40 L89.33,266.40 L89.87,266.40 L90.40,266.40 L90.94,266.40 L91.48,266.40 L92.02,266.40 L92.57,266.40 L93.11,266.40 L93.66,266.40 L94.21,266.40 L94.76,266.40 L95.32,266.40 L95.87,266.40 L96.43,266.40 L96.99,266.40 L97.55,266.40 L98.12,266.40 L98.69,266.40 L99.26,266.40 L99.83,266.40 L100.40,266.40 L100.98,266.40 L101.55,266.40 L102.13,266.40 L102.71,266.40 L103.30,266.40 L103.88,266.40 L104.47,266.40 L105.06,266.40 L105.65,266.40 L106.25,266.40 L106.85,266.40 L107.44,266.40 L108.04,266.40 L108.65,266.40 L109.25,266.40 L109.86,266.40 L110.47,266.40 L111.08,266.40 L111.69,266.40 L112.31,266.40 L112.93,266.40 L113.55,266.40 L114.17,266.40 L114.79,266.40 L115.42,266.40 L116.04,266.40 L116.67,266.40 L117.31,266.40 L117.94,266.40 L118.58,266.40 L119.22,266.40 L119.86,266.40 L120.50,266.40 L121.14,266.40 L121.79,266.40 L122.44,266.40 L123.09,266.40 L123.75,266.40 L124.40,266.40 L125.06,266.40 L125.72,266.40 L126.38,266.40 L127.04,266.40 L127.71,266.40 L128.38,266.40 L129.05,266.40 L129.72,266.40 L130.39,266.40 L131.07,266.40 L131.75,266.40 L132.43,266.40 L133.11,266.40 L133.80,266.40 L134.48,266.40 L135.17,266.40 L135.86,266.40 L136.56,266.40 L137.25,266.40 L137.95,266.40 L138.65,266.40 L139.35,266.40 L140.05,266.40 L140.76,266.40 L141.47,266.40 L142.18,266.40 L142.89,266.40 L143.60,266.40 L144.32,266.40 L145.04,266.40 L145.76,266.40 L146.48,266.40 L147.21,266.40 L147.93,266.40 L148.66,266.40 L149.39,266.40 L150.13,266.40 L150.86,266.40 L151.60,266.40 L152.34,266.40 L153.08,266.40 L153.83,266.40 L154.57,266.40 L155.32,266.40 L156.07,266.40 L156.82,266.40 L157.58,266.40 L158.33,266.40 L159.09,266.40 L159.85,266.40 L160.61,266.40 L161.38,266.40 L162.15,266.40 L162.91,266.40 L163.69,266.40 L164.46,266.40 L165.23,266.40 L166.01,266.40 L166.79,266.40 L167.57,266.40 L168.36,266.40 L169.14,266.40 L169.93,266.40 L170.72,266.40 L171.51,266.40 L172.31,266.40 L173.10,266.40 L173.90,266.40 L174.70,266.40 L175.50,266.40 L176.31,266.40 L177.12,266.40 L177.92,266.40 L178.74,266.40 L179.55,266.40 L180.36,266.40 L181.18,266.40 L182.00,266.40 L182.82,266.40 L183.65,266.40 L184.47,266.40 L185.30,266.40 L186.13,266.40 L186.96,266.40 L187.80,266.40 L188.63,266.40 L189.47,266.40 L190.31,266.40 L191.15,266.40 L192.00,266.40 L192.85,266.40 L193.69,266.40 L194.55,266.40 L195.40,266.40 L196.25,266.40 L197.11,266.40 L197.97,266.40 L198.83,266.40 L199.70,266.40 L200.56,266.40 L201.43,266.40 L202.30,266.40 L203.17,266.40 L204.05,266.40 L204.92,266.40 L205.80,266.40 L206.68,266.40 L207.56,266.40 L208.45,266.40 L209.33,266.40 L210.22,266.40 L211.11,266.40 L212.01,266.40 L212.90,266.40 L213.80,266.40 L214.70,266.40 L215.60,266.40 L216.50,266.40 L217.41,266.40 L218.32,266.40 L219.23,266.40 L220.14,266.40 L221.05,266.40 L221.97,266.40 L222.89,266.40 L223.81,266.40 L224.73,266.40 L225.66,266.40 L226.58,266.40 L227.51,266.40 L228.44,266.40 L229.38,266.40 L230.31,266.40 L231.25,266.40 L232.19,266.40 L233.13,266.40 L234.07,266.40 L235.02,266.40 L235.97,266.40 L236.92,266.40 L237.87,266.40 L238.82,266.40 L239.78,266.40 L240.74,266.40 L241.70,266.40 L242.66,266.40 L243.62,266.40 L244.59,266.40 L245.56,266.40 L246.53,266.40 L247.50,266.40 L248.48,266.40 L249.46,266.40 L250.44,266.40 L251.42,266.40 L252.40,266.40 L253.39,266.40 L254.37,266.40 L255.36,266.40 L256.36,266.40 L257.35,266.40 L258.35,266.40 L259.34,266.40 L260.35,266.40 L261.35,266.40 L262.35,266.40 L263.36,266.40 L264.37,266.40 L265.38,266.40 L266.39,266.40 L267.41,266.40 L268.42,266.40 L269.44,266.40 L270.47,266.40 L271.49,266.40 L272.51,266.40 L273.54,266.40 L274.57,266.40 L275.60,266.40 L276.64,266.40 L277.67,266.40 L278.71,266.40 L279.75,266.40 L280.80,266.40 L281.84,266.40 L282.89,266.40 L283.94,266.40 L284.99,266.40 L286.04,266.40 L287.09,266.40 L288.15,266.40 L289.21,266.40 L290.27,266.40 L291.34,266.40 L292.40,266.40 L293.47,266.40 L294.54,266.40 L295.61,266.40 L296.68,266.40 L297.76,266.40 L298.84,266.40 L299.92,266.40 L301.00,266.40 L302.09,266.40 L303.17,266.40 L304.26,266.40 L305.35,266.40 L306.45,266.40 L307.54,266.40 L308.64,266.40 L309.74,266.40 L310.84,266.40 L311.94,266.40 L313.05,266.40 L314.16,266.40 L315.27,266.40 L316.38,266.40 L317.49,266.40 L318.61,266.40 L319.73,266.40 L320.85,266.40 L321.97,266.40 L323.09,266.40 L324.22,266.40 L325.35,266.40 L326.48,266.40 L327.61,266.40 L328.75,266.40 L329.88,266.40 L331.02,266.40 L332.16,266.40 L333.31,266.40 L334.45,266.40 L335.60,266.40 L336.75,266.40 L337.90,266.40 L339.06,266.40 L340.21,266.40 L341.37,266.40 L342.53,266.40 L343.69,266.40 L344.86,266.40 L346.03,266.40 L347.19,266.40 L348.36,266.40 L349.54,266.40 L350.71,266.40 L351.89,266.40 L353.07,266.40 L354.25,266.40 L355.43,266.40 L356.62,266.40 L357.81,266.40 L359.00,266.40 L360.19,266.40 L361.38,266.40 L362.58,266.40 L363.78,266.40 L364.98,266.40 L366.18,266.40 L367.38,266.40 L368.59,266.40 L369.80,266.40 L371.01,266.40 L372.22,266.40 L373.44,266.40 L374.65,266.40 L375.87,266.40 L377.10,266.40 L378.32,266.40 L379.54,266.40 L380.77,266.40 L382.00,266.40 L383.23,266.40 L384.47,266.40 L385.70,266.40 L386.94,266.40 L388.18,266.40 L389.42,266.40 L390.67,266.40 L391.92,266.40 L393.16,266.40 L394.41,266.40 L395.67,266.40 L396.92,266.40 L398.18,266.40 L399.44,266.40 L400.70,266.40" fill="none" stroke="#ff8000" stroke-width="3.4" stroke-dasharray="6.8,2.7,3.9,2.7" stroke-dashoffset="6.8"/>
<path d="M22.00,38.10 L22.00,38.10 L22.00,38.11 L22.01,38.13 L22.02,38.15 L22.03,38.18 L22.04,38.21 L22.05,38.26 L22.07,38.30 L22.09,38.36 L22.11,38.42 L22.13,38.48 L22.15,38.56 L22.18,38.64 L22.21,38.72 L22.24,38.81 L22.27,38.91 L22.30,39.01 L22.34,39.13 L22.38,39.24 L22.42,39.36 L22.46,39.49 L22.51,39.63 L22.56,39.77 L22.61,39.92 L22.66,40.07 L22.71,40.23 L22.77,40.40 L22.82,40.57 L22.88,40.75 L22.95,40.94 L23.01,41.13 L23.08,41.32 L23.15,41.53 L23.22,41.74 L23.29,41.95 L23.36,42.17 L23.44,42.40 L23.52,42.63 L23.60,42.87 L23.68,43.12 L23.77,43.37 L23.86,43.63 L23.95,43.89 L24.04,44.16 L24.13,44.43 L24.23,44.71 L24.32,45.00 L24.42,45.29 L24.53,45.59 L24.63,45.89 L24.74,46.20 L24.84,46.51 L24.95,46.84 L25.07,47.16 L25.18,47.49 L25.30,47.83 L25.42,48.17 L25.54,48.52 L25.66,48.88 L25.79,49.23 L25.91,49.60 L26.04,49.97 L26.18,50.34 L26.31,50.73 L26.44,51.11 L26.58,51.50 L26.72,51.90 L26.86,52.30 L27.01,52.71 L27.15,53.12 L27.30,53.54 L27.45,53.96 L27.61,54.39 L27.76,54.82 L27.92,55.26 L28.08,55.70 L28.24,56.15 L28.40,56.60 L28.57,57.06 L28.73,57.52 L28.90,57.98 L29.07,58.46 L29.25,58.93 L29.42,59.41 L29.60,59.90 L29.78,60.39 L29.96,60.88 L30.15,61.38 L30.33,61.88 L30.52,62.39 L30.71,62.90 L30.90,63.42 L31.10,63.94 L31.29,64.47 L31.49,65.00 L31.69,65.53 L31.90,66.07 L32.10,66.61 L32.31,67.15 L32.52,67.70 L32.73,68.26 L32.94,68.82 L33.16,69.38 L33.38,69.94 L33.60,70.51 L33.82,71.09 L34.04,71.66 L34.27,72.24 L34.50,72.83 L34.73,73.42 L34.96,74.01 L35.20,74.60 L35.43,75.20 L35.67,75.80 L35.91,76.41 L36.15,77.02 L36.40,77.63 L36.65,78.24 L36.90,78.86 L37.15,79.48 L37.40,80.11 L37.66,80.74 L37.91,81.37 L38.17,82.00 L38.44,82.64 L38.70,83.28 L38.97,83.92 L39.24,84.56 L39.51,85.21 L39.78,85.86 L40.05,86.52 L40.33,87.17 L40.61,87.83 L40.89,88.49 L41.17,89.15 L41.46,89.82 L41.74,90.49 L42.03,91.16 L42.32,91.83 L42.62,92.51 L42.91,93.18 L43.21,93.86 L43.51,94.55 L43.81,95.23 L44.12,95.92 L44.42,96.60 L44.73,97.29 L45.04,97.98 L45.35,98.68 L45.67,99.37 L45.99,100.07 L46.30,100.77 L46.62,101.47 L46.95,102.17 L47.27,102.87 L47.60,103.58 L47.93,104.28 L48.26,104.99 L48.59,105.70 L48.93,106.41 L49.27,107.12 L49.61,107.84 L49.95,108.55 L50.29,109.27 L50.64,109.98 L50.99,110.70 L51.34,111.42 L51.69,112.14 L52.04,112.86 L52.40,113.58 L52.76,114.30 L53.12,115.02 L53.48,115.75 L53.85,116.47 L54.22,117.20 L54.59,117.92 L54.96,118.65 L55.33,119.37 L55.71,120.10 L56.08,120.83 L56.46,121.56 L56.84,122.29 L57.23,123.01 L57.61,123.74 L58.00,124.47 L58.39,125.20 L58.79,125.93 L59.18,126.66 L59.58,127.39 L59.98,128.12 L60.38,128.85 L60.78,129.58 L61.18,130.31 L61.59,131.04 L62.00,131.77 L62.41,132.50 L62.82,133.23 L63.24,133.96 L63.66,134.68 L64.08,135.41 L64.50,136.14 L64.92,136.87 L65.35,137.59 L65.78,138.32 L66.21,139.04 L66.64,139.77 L67.07,140.49 L67.51,141.22 L67.95,141.94 L68.39,142.66 L68.83,143.38 L69.28,144.10 L69.73,144.82 L70.17,145.54 L70.63,146.26 L71.08,146.98 L71.54,147.69 L71.99,148.41 L72.45,149.12 L72.91,149.84 L73.38,150.55 L73.84,151.26 L74.31,151.97 L74.78,152.68 L75.25,153.38 L75.73,154.09 L76.21,154.79 L76.68,155.50 L77.17,156.20 L77.65,156.90 L78.13,157.60 L78.62,158.29 L79.11,158.99 L79.60,159.69 L80.09,160.38 L80.59,161.07 L81.09,161.76 L81.59,162.45 L82.09,163.13 L82.59,163.82 L83.10,164.50 L83.61,165.18 L84.12,165.86 L84.63,166.54 L85.14,167.22 L85.66,167.89 L86.18,168.56 L86.70,169.23 L87.22,169.90 L87.75,170.57 L88.27,171.23 L88.80,171.89 L89.33,172.55 L89.87,173.21 L90.40,173.87 L90.94,174.52 L91.48,175.18 L92.02,175.83 L92.57,176.47 L93.11,177.12 L93.66,177.76 L94.21,178.41 L94.76,179.05 L95.32,179.68 L95.87,180.32 L96.43,180.95 L96.99,181.58 L97.55,182.21 L98.12,182.83 L98.69,183.46 L99.26,184.08 L99.83,184.70 L100.40,185.31 L100.98,185.93 L101.55,186.54 L102.13,187.15 L102.71,187.75 L103.30,188.36 L103.88,188.96 L104.47,189.56 L105.06,190.15 L105.65,190.75 L106.25,191.34 L106.85,191.93 L107.44,192.51 L108.04,193.10 L108.65,193.68 L109.25,194.26 L109.86,194.83 L110.47,195.41 L111.08,195.98 L111.69,196.54 L112.31,197.11 L112.93,197.67 L113.55,198.23 L114.17,198.79 L114.79,199.34 L115.42,199.90 L116.04,200.44 L116.67,200.99 L117.31,201.53 L117.94,202.08 L118.58,202.61 L119.22,203.15 L119.86,203.68 L120.50,204.21 L121.14,204.74 L121.79,205.26 L122.44,205.79 L123.09,206.30 L123.75,206.82 L124.40,207.33 L125.06,207.84 L125.72,208.35 L126.38,208.86 L127.04,209.36 L127.71,209.86 L128.38,210.35 L129.05,210.85 L129.72,211.34 L130.39,211.83 L131.07,212.31 L131.75,212.79 L132.43,213.27 L133.11,213.75 L133.80,214.22 L134.48,214.70 L135.17,215.16 L135.86,215.63 L136.56,216.09 L137.25,216.55 L137.95,217.01 L138.65,217.46 L139.35,217.91 L140.05,218.36 L140.76,218.81 L141.47,219.25 L142.18,219.69 L142.89,220.13 L143.60,220.56 L144.32,220.99 L145.04,221.42 L145.76,221.85 L146.48,222.27 L147.21,222.69 L147.93,223.11 L148.66,223.52 L149.39,223.94 L150.13,224.34 L150.86,224.75 L151.60,225.15 L152.34,225.56 L153.08,225.95 L153.83,226.35 L154.57,226.74 L155.32,227.13 L156.07,227.52 L156.82,227.90 L157.58,228.28 L158.33,228.66 L159.09,229.04 L159.85,229.41 L160.61,229.78 L161.38,230.15 L162.15,230.52 L162.91,230.88 L163.69,231.24 L164.46,231.59 L165.23,231.95 L166.01,232.30 L166.79,232.65 L167.57,233.00 L168.36,233.34 L169.14,233.68 L169.93,234.02 L170.72,234.36 L171.51,234.69 L172.31,235.02 L173.10,235.35 L173.90,235.67 L174.70,236.00 L175.50,236.32 L176.31,236.64 L177.12,236.95 L177.92,237.26 L178.74,237.57 L179.55,237.88 L180.36,238.19 L181.18,238.49 L182.00,238.79 L182.82,239.09 L183.65,239.38 L184.47,239.68 L185.30,239.97 L186.13,240.26 L186.96,240.54 L187.80,240.82 L188.63,241.11 L189.47,241.38 L190.31,241.66 L191.15,241.93 L192.00,242.20 L192.85,242.47 L193.69,242.74 L194.55,243.00 L195.40,243.27 L196.25,243.53 L197.11,243.78 L197.97,244.04 L198.83,244.29 L199.70,244.54 L200.56,244.79 L201.43,245.04 L202.30,245.28 L203.17,245.52 L204.05,245.76 L204.92,246.00 L205.80,246.24 L206.68,246.47 L207.56,246.70 L208.45,246.93 L209.33,247.15 L210.22,247.38 L211.11,247.60 L212.01,247.82 L212.90,248.04 L213.80,248.26 L214.70,248.47 L215.60,248.68 L216.50,248.89 L217.41,249.10 L218.32,249.31 L219.23,249.51 L220.14,249.71 L221.05,249.91 L221.97,250.11 L222.89,250.31 L223.81,250.50 L224.73,250.69 L225.66,250.89 L226.58,251.07 L227.51,251.26 L228.44,251.45 L229.38,251.63 L230.31,251.81 L231.25,251.99 L232.19,252.17 L233.13,252.34 L234.07,252.52 L235.02,252.69 L235.97,252.86 L236.92,253.03 L237.87,253.20 L238.82,253.36 L239.78,253.52 L240.74,253.69 L241.70,253.85 L242.66,254.01 L243.62,254.16 L244.59,254.32 L245.56,254.47 L246.53,254.62 L247.50,254.77 L248.48,254.92 L249.46,255.07 L250.44,255.21 L251.42,255.36 L252.40,255.50 L253.39,255.64 L254.37,255.78 L255.36,255.92 L256.36,256.06 L257.35,256.19 L258.35,256.32 L259.34,256.46 L260.35,256.59 L261.35,256.72 L262.35,256.84 L263.36,256.97 L264.37,257.09 L265.38,257.22 L266.39,257.34 L267.41,257.46 L268.42,257.58 L269.44,257.70 L270.47,257.81 L271.49,257.93 L272.51,258.04 L273.54,258.16 L274.57,258.27 L275.60,258.38 L276.64,258.49 L277.67,258.59 L278.71,258.70 L279.75,258.80 L280.80,258.91 L281.84,259.01 L282.89,259.11 L283.94,259.21 L284.99,259.31 L286.04,259.41 L287.09,259.51 L288.15,259.60 L289.21,259.70 L290.27,259.79 L291.34,259.88 L292.40,259.97 L293.47,260.06 L294.54,260.15 L295.61,260.24 L296.68,260.33 L297.76,260.41 L298.84,260.50 L299.92,260.58 L301.00,260.66 L302.09,260.74 L303.17,260.82 L304.26,260.90 L305.35,260.98 L306.45,261.06 L307.54,261.14 L308.64,261.21 L309.74,261.29 L310.84,261.36 L311.94,261.43 L313.05,261.51 L314.16,261.58 L315.27,261.65 L316.38,261.72 L317.49,261.79 L318.61,261.85 L319.73,261.92 L320.85,261.99 L321.97,262.05 L323.09,262.11 L324.22,262.18 L325.35,262.24 L326.48,262.30 L327.61,262.36 L328.75,262.42 L329.88,262.48 L331.02,262.54 L332.16,262.60 L333.31,262.65 L334.45,262.71 L335.60,262.77 L336.75,262.82 L337.90,262.88 L339.06,262.93 L340.21,262.98 L341.37,263.03 L342.53,263.08 L343.69,263.13 L344.86,263.18 L346.03,263.23 L347.19,263.28 L348.36,263.33 L349.54,263.38 L350.71,263.42 L351.89,263.47 L353.07,263.51 L354.25,263.56 L355.43,263.60 L356.62,263.65 L357.81,263.69 L359.00,263.73 L360.19,263.77 L361.38,263.81 L362.58,263.86 L363.78,263.90 L364.98,263.93 L366.18,263.97 L367.38,264.01 L368.59,264.05 L369.80,264.09 L371.01,264.12 L372.22,264.16 L373.44,264.20 L374.65,264.23 L375.87,264.27 L377.10,264.30 L378.32,264.33 L379.54,264.37 L380.77,264.40 L382.00,264.43 L383.23,264.46 L384.47,264.49 L385.70,264.52 L386.94,264.56 L388.18,264.59 L389.42,264.61 L390.67,264.64 L391.92,264.67 L393.16,264.70 L394.41,264.73 L395.67,264.76 L396.92,264.78 L398.18,264.81 L399.44,264.84 L400.70,264.86" fill="none" stroke="#0000ff" stroke-width="1.15" stroke-dasharray="8.8,7.2"/>
<path d="M22.00,38.10 L22.00,38.10 L22.00,38.12 L22.01,38.14 L22.02,38.18 L22.03,38.22 L22.04,38.28 L22.05,38.34 L22.07,38.41 L22.09,38.49 L22.11,38.59 L22.13,38.69 L22.15,38.80 L22.18,38.92 L22.21,39.05 L22.24,39.19 L22.27,39.34 L22.30,39.50 L22.34,39.67 L22.38,39.85 L22.42,40.04 L22.46,40.24 L22.51,40.45 L22.56,40.66 L22.61,40.89 L22.66,41.12 L22.71,41.37 L22.77,41.62 L22.82,41.89 L22.88,42.16 L22.95,42.44 L23.01,42.73 L23.08,43.04 L23.15,43.35 L23.22,43.66 L23.29,43.99 L23.36,44.33 L23.44,44.68 L23.52,45.03 L23.60,45.40 L23.68,45.77 L23.77,46.15 L23.86,46.54 L23.95,46.94 L24.04,47.35 L24.13,47.77 L24.23,48.19 L24.32,48.63 L24.42,49.07 L24.53,49.52 L24.63,49.98 L24.74,50.45 L24.84,50.92 L24.95,51.41 L25.07,51.90 L25.18,52.40 L25.30,52.91 L25.42,53.43 L25.54,53.95 L25.66,54.49 L25.79,55.03 L25.91,55.57 L26.04,56.13 L26.18,56.70 L26.31,57.27 L26.44,57.85 L26.58,58.43 L26.72,59.03 L26.86,59.63 L27.01,60.24 L27.15,60.85 L27.30,61.48 L27.45,62.11 L27.61,62.74 L27.76,63.39 L27.92,64.04 L28.08,64.70 L28.24,65.36 L28.40,66.03 L28.57,66.71 L28.73,67.40 L28.90,68.09 L29.07,68.78 L29.25,69.49 L29.42,70.20 L29.60,70.91 L29.78,71.64 L29.96,72.36 L30.15,73.10 L30.33,73.84 L30.52,74.58 L30.71,75.34 L30.90,76.09 L31.10,76.85 L31.29,77.62 L31.49,78.40 L31.69,79.17 L31.90,79.96 L32.10,80.75 L32.31,81.54 L32.52,82.34 L32.73,83.15 L32.94,83.95 L33.16,84.77 L33.38,85.59 L33.60,86.41 L33.82,87.24 L34.04,88.07 L34.27,88.90 L34.50,89.74 L34.73,90.59 L34.96,91.44 L35.20,92.29 L35.43,93.15 L35.67,94.01 L35.91,94.87 L36.15,95.74 L36.40,96.61 L36.65,97.48 L36.90,98.36 L37.15,99.24 L37.40,100.13 L37.66,101.02 L37.91,101.91 L38.17,102.80 L38.44,103.70 L38.70,104.60 L38.97,105.50 L39.24,106.40 L39.51,107.31 L39.78,108.22 L40.05,109.13 L40.33,110.05 L40.61,110.97 L40.89,111.88 L41.17,112.81 L41.46,113.73 L41.74,114.65 L42.03,115.58 L42.32,116.51 L42.62,117.44 L42.91,118.37 L43.21,119.30 L43.51,120.24 L43.81,121.18 L44.12,122.11 L44.42,123.05 L44.73,123.99 L45.04,124.93 L45.35,125.87 L45.67,126.82 L45.99,127.76 L46.30,128.70 L46.62,129.65 L46.95,130.59 L47.27,131.54 L47.60,132.49 L47.93,133.43 L48.26,134.38 L48.59,135.33 L48.93,136.27 L49.27,137.22 L49.61,138.17 L49.95,139.11 L50.29,140.06 L50.64,141.01 L50.99,141.95 L51.34,142.90 L51.69,143.84 L52.04,144.79 L52.40,145.73 L52.76,146.67 L53.12,147.62 L53.48,148.56 L53.85,149.50 L54.22,150.44 L54.59,151.38 L54.96,152.32 L55.33,153.25 L55.71,154.19 L56.08,155.12 L56.46,156.05 L56.84,156.99 L57.23,157.92 L57.61,158.84 L58.00,159.77 L58.39,160.70 L58.79,161.62 L59.18,162.54 L59.58,163.46 L59.98,164.38 L60.38,165.29 L60.78,166.21 L61.18,167.12 L61.59,168.03 L62.00,168.94 L62.41,169.84 L62.82,170.75 L63.24,171.65 L63.66,172.54 L64.08,173.44 L64.50,174.33 L64.92,175.22 L65.35,176.11 L65.78,177.00 L66.21,177.88 L66.64,178.76 L67.07,179.64 L67.51,180.51 L67.95,181.38 L68.39,182.25 L68.83,183.12 L69.28,183.98 L69.73,184.84 L70.17,185.70 L70.63,186.55 L71.08,187.40 L71.54,188.25 L71.99,189.09 L72.45,189.94 L72.91,190.77 L73.38,191.61 L73.84,192.44 L74.31,193.27 L74.78,194.09 L75.25,194.91 L75.73,195.73 L76.21,196.54 L76.68,197.35 L77.17,198.16 L77.65,198.96 L78.13,199.76 L78.62,200.55 L79.11,201.34 L79.60,202.13 L80.09,202.91 L80.59,203.69 L81.09,204.47 L81.59,205.24 L82.09,206.01 L82.59,206.77 L83.10,207.54 L83.61,208.29 L84.12,209.04 L84.63,209.79 L85.14,210.54 L85.66,211.28 L86.18,212.01 L86.70,212.75 L87.22,213.47 L87.75,214.20 L88.27,214.92 L88.80,215.63 L89.33,216.35 L89.87,217.05 L90.40,217.76 L90.94,218.46 L91.48,219.15 L92.02,219.84 L92.57,220.53 L93.11,221.21 L93.66,221.89 L94.21,222.56 L94.76,223.23 L95.32,223.90 L95.87,224.56 L96.43,225.21 L96.99,225.86 L97.55,226.51 L98.12,227.16 L98.69,227.80 L99.26,228.43 L99.83,229.06 L100.40,229.69 L100.98,230.31 L101.55,230.93 L102.13,231.54 L102.71,232.15 L103.30,232.75 L103.88,233.35 L104.47,233.95 L105.06,234.54 L105.65,235.13 L106.25,235.71 L106.85,236.29 L107.44,236.86 L108.04,237.43 L108.65,238.00 L109.25,238.56 L109.86,239.12 L110.47,239.67 L111.08,240.22 L111.69,240.76 L112.31,241.30 L112.93,241.83 L113.55,242.37 L114.17,242.89 L114.79,243.41 L115.42,243.93 L116.04,244.45 L116.67,244.96 L117.31,245.46 L117.94,245.96 L118.58,246.46 L119.22,246.95 L119.86,247.44 L120.50,247.93 L121.14,248.41 L121.79,248.88 L122.44,249.35 L123.09,249.82 L123.75,250.29 L124.40,250.75 L125.06,251.20 L125.72,251.65 L126.38,252.10 L127.04,252.54 L127.71,252.98 L128.38,253.42 L129.05,253.85 L129.72,254.28 L130.39,254.70 L131.07,255.12 L131.75,255.54 L132.43,255.95 L133.11,256.36 L133.80,256.76 L134.48,257.16 L135.17,257.56 L135.86,257.95 L136.56,258.34 L137.25,258.72 L137.95,259.10 L138.65,259.48 L139.35,259.85 L140.05,260.22 L140.76,260.59 L141.47,260.95 L142.18,261.31 L142.89,261.66 L143.60,262.02 L144.32,262.36 L145.04,262.71 L145.76,263.05 L146.48,263.39 L147.21,263.72 L147.93,264.05 L148.66,264.38 L149.39,264.70 L150.13,265.02 L150.86,265.34 L151.60,265.65 L152.34,265.96 L153.08,266.27 L153.83,266.40 L154.57,266.40 L155.32,266.40 L156.07,266.40 L156.82,266.40 L157.58,266.40 L158.33,266.40 L159.09,266.40 L159.85,266.40 L160.61,266.40 L161.38,266.40 L162.15,266.40 L162.91,266.40 L163.69,266.40 L164.46,266.40 L165.23,266.40 L166.01,266.40 L166.79,266.40 L167.57,266.40 L168.36,266.40 L169.14,266.40 L169.93,266.40 L170.72,266.40 L171.51,266.40 L172.31,266.40 L173.10,266.40 L173.90,266.40 L174.70,266.40 L175.50,266.40 L176.31,266.40 L177.12,266.40 L177.92,266.40 L178.74,266.40 L179.55,266.40 L180.36,266.40 L181.18,266.40 L182.00,266.40 L182.82,266.40 L183.65,266.40 L184.47,266.40 L185.30,266.40 L186.13,266.40 L186.96,266.40 L187.80,266.40 L188.63,266.40 L189.47,266.40 L190.31,266.40 L191.15,266.40 L192.00,266.40 L192.85,266.40 L193.69,266.40 L194.55,266.40 L195.40,266.40 L196.25,266.40 L197.11,266.40 L197.97,266.40 L198.83,266.40 L199.70,266.40 L200.56,266.40 L201.43,266.40 L202.30,266.40 L203.17,266.40 L204.05,266.40 L204.92,266.40 L205.80,266.40 L206.68,266.40 L207.56,266.40 L208.45,266.40 L209.33,266.40 L210.22,266.40 L211.11,266.40 L212.01,266.40 L212.90,266.40 L213.80,266.40 L214.70,266.40 L215.60,266.40 L216.50,266.40 L217.41,266.40 L218.32,266.40 L219.23,266.40 L220.14,266.40 L221.05,266.40 L221.97,266.40 L222.89,266.40 L223.81,266.40 L224.73,266.40 L225.66,266.40 L226.58,266.40 L227.51,266.40 L228.44,266.40 L229.38,266.40 L230.31,266.40 L231.25,266.40 L232.19,266.40 L233.13,266.40 L234.07,266.40 L235.02,266.40 L235.97,266.40 L236.92,266.40 L237.87,266.40 L238.82,266.40 L239.78,266.40 L240.74,266.40 L241.70,266.40 L242.66,266.40 L243.62,266.40 L244.59,266.40 L245.56,266.40 L246.53,266.40 L247.50,266.40 L248.48,266.40 L249.46,266.40 L250.44,266.40 L251.42,266.40 L252.40,266.40 L253.39,266.40 L254.37,266.40 L255.36,266.40 L256.36,266.40 L257.35,266.40 L258.35,266.40 L259.34,266.40 L260.35,266.40 L261.35,266.40 L262.35,266.40 L263.36,266.40 L264.37,266.40 L265.38,266.40 L266.39,266.40 L267.41,266.40 L268.42,266.40 L269.44,266.40 L270.47,266.40 L271.49,266.40 L272.51,266.40 L273.54,266.40 L274.57,266.40 L275.60,266.40 L276.64,266.40 L277.67,266.40 L278.71,266.40 L279.75,266.40 L280.80,266.40 L281.84,266.40 L282.89,266.40 L283.94,266.40 L284.99,266.40 L286.04,266.40 L287.09,266.40 L288.15,266.40 L289.21,266.40 L290.27,266.40 L291.34,266.40 L292.40,266.40 L293.47,266.40 L294.54,266.40 L295.61,266.40 L296.68,266.40 L297.76,266.40 L298.84,266.40 L299.92,266.40 L301.00,266.40 L302.09,266.40 L303.17,266.40 L304.26,266.40 L305.35,266.40 L306.45,266.40 L307.54,266.40 L308.64,266.40 L309.74,266.40 L310.84,266.40 L311.94,266.40 L313.05,266.40 L314.16,266.40 L315.27,266.40 L316.38,266.40 L317.49,266.40 L318.61,266.40 L319.73,266.40 L320.85,266.40 L321.97,266.40 L323.09,266.40 L324.22,266.40 L325.35,266.40 L326.48,266.40 L327.61,266.40 L328.75,266.40 L329.88,266.40 L331.02,266.40 L332.16,266.40 L333.31,266.40 L334.45,266.40 L335.60,266.40 L336.75,266.40 L337.90,266.40 L339.06,266.40 L340.21,266.40 L341.37,266.40 L342.53,266.40 L343.69,266.40 L344.86,266.40 L346.03,266.40 L347.19,266.40 L348.36,266.40 L349.54,266.40 L350.71,266.40 L351.89,266.40 L353.07,266.40 L354.25,266.40 L355.43,266.40 L356.62,266.40 L357.81,266.40 L359.00,266.40 L360.19,266.40 L361.38,266.40 L362.58,266.40 L363.78,266.40 L364.98,266.40 L366.18,266.40 L367.38,266.40 L368.59,266.40 L369.80,266.40 L371.01,266.40 L372.22,266.40 L373.44,266.40 L374.65,266.40 L375.87,266.40 L377.10,266.40 L378.32,266.40 L379.54,266.40 L380.77,266.40 L382.00,266.40 L383.23,266.40 L384.47,266.40 L385.70,266.40 L386.94,266.40 L388.18,266.40 L389.42,266.40 L390.67,266.40 L391.92,266.40 L393.16,266.40 L394.41,266.40 L395.67,266.40 L396.92,266.40 L398.18,266.40 L399.44,266.40 L400.70,266.40" fill="none" stroke="#0000ff" stroke-width="1.15" stroke-dasharray="6,4.4,1.3,4.4"/>
<line x1="14" y1="266.4" x2="408.6" y2="266.4" stroke="#505050" stroke-width="0.65"/>
<line x1="21.78" y1="30.5" x2="21.78" y2="274.5" stroke="#505050" stroke-width="0.65"/>
<line x1="37.15" y1="266.4" x2="37.15" y2="263.8" stroke="#505050" stroke-width="0.65"/>
<line x1="52.30" y1="266.4" x2="52.30" y2="263.8" stroke="#505050" stroke-width="0.65"/>
<line x1="67.44" y1="266.4" x2="67.44" y2="263.8" stroke="#505050" stroke-width="0.65"/>
<line x1="82.59" y1="266.4" x2="82.59" y2="263.8" stroke="#505050" stroke-width="0.65"/>
<line x1="97.74" y1="266.4" x2="97.74" y2="262.1" stroke="#505050" stroke-width="0.65"/>
<line x1="112.89" y1="266.4" x2="112.89" y2="263.8" stroke="#505050" stroke-width="0.65"/>
<line x1="128.04" y1="266.4" x2="128.04" y2="263.8" stroke="#505050" stroke-width="0.65"/>
<line x1="143.18" y1="266.4" x2="143.18" y2="263.8" stroke="#505050" stroke-width="0.65"/>
<line x1="158.33" y1="266.4" x2="158.33" y2="263.8" stroke="#505050" stroke-width="0.65"/>
<line x1="173.48" y1="266.4" x2="173.48" y2="262.1" stroke="#505050" stroke-width="0.65"/>
<line x1="188.63" y1="266.4" x2="188.63" y2="263.8" stroke="#505050" stroke-width="0.65"/>
<line x1="203.78" y1="266.4" x2="203.78" y2="263.8" stroke="#505050" stroke-width="0.65"/>
<line x1="218.92" y1="266.4" x2="218.92" y2="263.8" stroke="#505050" stroke-width="0.65"/>
<line x1="234.07" y1="266.4" x2="234.07" y2="263.8" stroke="#505050" stroke-width="0.65"/>
<line x1="249.22" y1="266.4" x2="249.22" y2="262.1" stroke="#505050" stroke-width="0.65"/>
<line x1="264.37" y1="266.4" x2="264.37" y2="263.8" stroke="#505050" stroke-width="0.65"/>
<line x1="279.52" y1="266.4" x2="279.52" y2="263.8" stroke="#505050" stroke-width="0.65"/>
<line x1="294.66" y1="266.4" x2="294.66" y2="263.8" stroke="#505050" stroke-width="0.65"/>
<line x1="309.81" y1="266.4" x2="309.81" y2="263.8" stroke="#505050" stroke-width="0.65"/>
<line x1="324.96" y1="266.4" x2="324.96" y2="262.1" stroke="#505050" stroke-width="0.65"/>
<line x1="340.11" y1="266.4" x2="340.11" y2="263.8" stroke="#505050" stroke-width="0.65"/>
<line x1="355.26" y1="266.4" x2="355.26" y2="263.8" stroke="#505050" stroke-width="0.65"/>
<line x1="370.40" y1="266.4" x2="370.40" y2="263.8" stroke="#505050" stroke-width="0.65"/>
<line x1="385.55" y1="266.4" x2="385.55" y2="263.8" stroke="#505050" stroke-width="0.65"/>
<line x1="400.70" y1="266.4" x2="400.70" y2="262.1" stroke="#505050" stroke-width="0.65"/>
<line x1="21.78" y1="254.98" x2="24.58" y2="254.98" stroke="#505050" stroke-width="0.65"/>
<line x1="21.78" y1="243.57" x2="24.58" y2="243.57" stroke="#505050" stroke-width="0.65"/>
<line x1="21.78" y1="232.15" x2="24.58" y2="232.15" stroke="#505050" stroke-width="0.65"/>
<line x1="21.78" y1="220.74" x2="26.58" y2="220.74" stroke="#505050" stroke-width="0.65"/>
<line x1="21.78" y1="209.32" x2="24.58" y2="209.32" stroke="#505050" stroke-width="0.65"/>
<line x1="21.78" y1="197.91" x2="24.58" y2="197.91" stroke="#505050" stroke-width="0.65"/>
<line x1="21.78" y1="186.49" x2="24.58" y2="186.49" stroke="#505050" stroke-width="0.65"/>
<line x1="21.78" y1="175.08" x2="26.58" y2="175.08" stroke="#505050" stroke-width="0.65"/>
<line x1="21.78" y1="163.66" x2="24.58" y2="163.66" stroke="#505050" stroke-width="0.65"/>
<line x1="21.78" y1="152.25" x2="24.58" y2="152.25" stroke="#505050" stroke-width="0.65"/>
<line x1="21.78" y1="140.83" x2="24.58" y2="140.83" stroke="#505050" stroke-width="0.65"/>
<line x1="21.78" y1="129.42" x2="26.58" y2="129.42" stroke="#505050" stroke-width="0.65"/>
<line x1="21.78" y1="118.00" x2="24.58" y2="118.00" stroke="#505050" stroke-width="0.65"/>
<line x1="21.78" y1="106.59" x2="24.58" y2="106.59" stroke="#505050" stroke-width="0.65"/>
<line x1="21.78" y1="95.17" x2="24.58" y2="95.17" stroke="#505050" stroke-width="0.65"/>
<line x1="21.78" y1="83.76" x2="26.58" y2="83.76" stroke="#505050" stroke-width="0.65"/>
<line x1="21.78" y1="72.34" x2="24.58" y2="72.34" stroke="#505050" stroke-width="0.65"/>
<line x1="21.78" y1="60.93" x2="24.58" y2="60.93" stroke="#505050" stroke-width="0.65"/>
<line x1="21.78" y1="49.51" x2="24.58" y2="49.51" stroke="#505050" stroke-width="0.65"/>
<line x1="21.78" y1="38.10" x2="26.58" y2="38.10" stroke="#505050" stroke-width="0.65"/>
<text x="97.7" y="283.5" text-anchor="middle" font-size="14.6">1</text>
<text x="173.5" y="283.5" text-anchor="middle" font-size="14.6">2</text>
<text x="249.2" y="283.5" text-anchor="middle" font-size="14.6">3</text>
<text x="325.0" y="283.5" text-anchor="middle" font-size="14.6">4</text>
<text x="400.7" y="283.5" text-anchor="middle" font-size="14.6">5</text>
<text x="18.3" y="226.1" text-anchor="end" font-size="14.6">0.2</text>
<text x="18.3" y="180.5" text-anchor="end" font-size="14.6">0.4</text>
<text x="18.3" y="134.8" text-anchor="end" font-size="14.6">0.6</text>
<text x="18.3" y="89.2" text-anchor="end" font-size="14.6">0.8</text>
<text x="18.3" y="43.5" text-anchor="end" font-size="14.6">1.0</text>
<text transform="translate(5.6,17.2) scale(1.058,1)" font-size="17">C[<tspan font-style="italic">ρ</tspan>]</text>
<text x="418.6" y="272.8" font-size="17">Γ</text>
<text transform="translate(428.0,275.6) scale(1.08,1)" font-size="13">0</text>
<text x="435.2" y="272.8" font-size="17">t</text>
</svg></body></html>
